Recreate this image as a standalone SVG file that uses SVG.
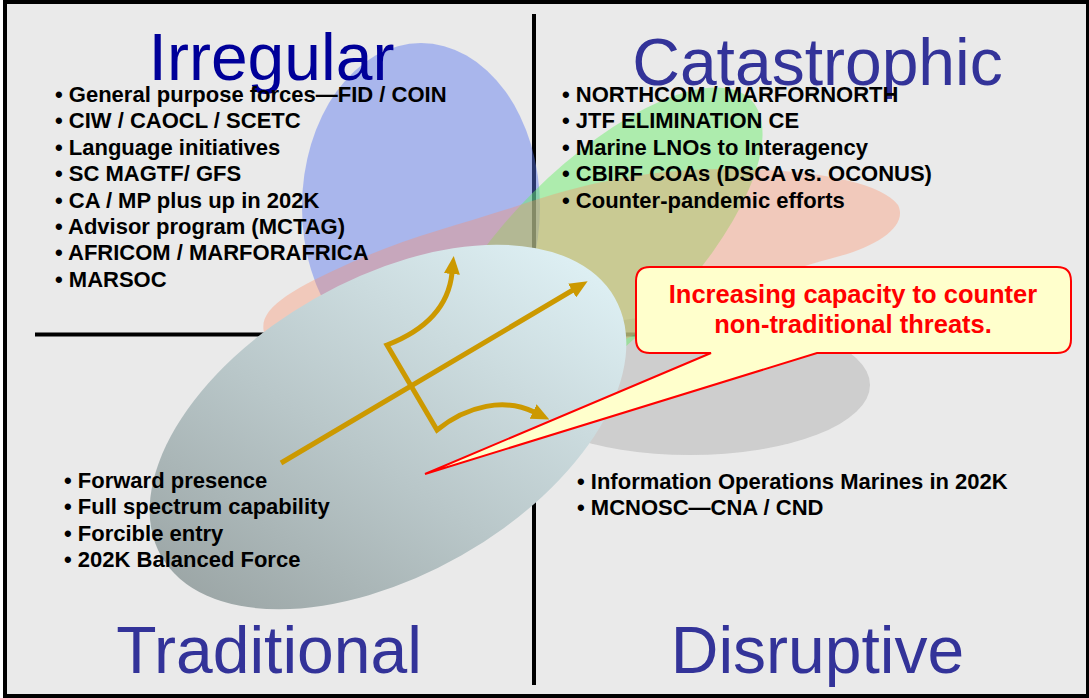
<svg xmlns="http://www.w3.org/2000/svg" width="1089" height="698" viewBox="0 0 1089 698">
<style>
.title{font-family:"Liberation Sans",Arial,sans-serif;font-size:66px;text-anchor:middle}
.b{font-family:"Liberation Sans",Arial,sans-serif;font-size:22px;font-weight:bold;fill:#000}
.call{font-family:"Liberation Sans",Arial,sans-serif;font-size:25.5px;font-weight:bold;fill:#FF0000;text-anchor:middle}
.div{stroke:#000;stroke-width:4;fill:none}
.arr{stroke:#CC9900;stroke-width:5;fill:none;stroke-linejoin:miter}
</style>
<defs>
<linearGradient id="tradGrad" gradientUnits="userSpaceOnUse" x1="150" y1="540" x2="600" y2="310">
<stop offset="0" stop-color="#9AA4A4"/>
<stop offset="0.45" stop-color="#B9C7C9"/>
<stop offset="1" stop-color="#DDEFF3"/>
</linearGradient>
<marker id="head" viewBox="0 0 18 16" refX="1" refY="8" markerWidth="18" markerHeight="16" markerUnits="userSpaceOnUse" orient="auto-start-reverse">
<path d="M0,0 L18,8 L0,16 Z" fill="#CC9900"/>
</marker>
</defs>
<rect x="5" y="2" width="1083" height="694" fill="#EAEAEA" stroke="#000" stroke-width="4"/>
<g id="dividers">
<line class="div" x1="534" y1="14" x2="534" y2="685"/>
<line class="div" x1="35" y1="334.5" x2="1050" y2="334.5"/>
</g>
<g id="irregular-shape"><ellipse cx="421" cy="207" rx="119" ry="164" fill="#5A78F0" fill-opacity="0.45"/></g>
<g id="disruptive-shape"><ellipse cx="690" cy="385" rx="180" ry="70" fill="#BBBBBB" fill-opacity="0.6"/></g>
<g id="catastrophic-shape"><ellipse cx="595" cy="255" rx="220" ry="88" transform="rotate(-45 595 255)" fill="#64F064" fill-opacity="0.45"/></g>
<g id="orange-shape"><path d="M265,335 C255,310 290,290 350,263 S460,225 520,205 S640,170 720,169 S880,180 898,205 C908,225 880,245 840,256 C780,272 700,300 630,337 C540,380 290,390 265,335 Z" fill="#FF8C64" fill-opacity="0.35"/></g>
<g id="traditional-shape"><ellipse cx="388" cy="427" rx="261" ry="148" transform="rotate(-29.65 388 427)" fill="url(#tradGrad)"/></g>
<g id="connectors">
<path class="arr" d="M281,463 L573,290" marker-end="url(#head)"/>
<path class="arr" d="M452,273 C448,312 418,333 387,345 L437,430 C468,405 505,398 534,412" marker-start="url(#head)" marker-end="url(#head)"/>
</g>
<g id="callout">
<path d="M650,267 H1057 Q1071,267 1071,281 V339 Q1071,353 1057,353 H817 L425,474 L711,353 H650 Q636,353 636,339 V281 Q636,267 650,267 Z" fill="#FFFFCC" stroke="#FF0000" stroke-width="2"/>
<text class="call" x="853" y="303">Increasing capacity to counter</text>
<text class="call" x="853" y="333">non-traditional threats.</text>
</g>
<g id="irregular">
<text class="title" x="271.5" y="80" fill="#000099">Irregular</text>
<text class="b" x="55" y="102">• General purpose forces—FID / COIN</text>
<text class="b" x="55" y="128.4">• CIW / CAOCL / SCETC</text>
<text class="b" x="55" y="154.8">• Language initiatives</text>
<text class="b" x="55" y="181.2">• SC MAGTF/ GFS</text>
<text class="b" x="55" y="207.6">• CA / MP plus up in 202K</text>
<text class="b" x="55" y="234">• Advisor program (MCTAG)</text>
<text class="b" x="55" y="260.4">• AFRICOM / MARFORAFRICA</text>
<text class="b" x="55" y="286.8">• MARSOC</text>
</g>
<g id="catastrophic">
<text class="title" x="817.5" y="85" fill="#333399">Catastrophic</text>
<text class="b" x="562" y="102">• NORTHCOM / MARFORNORTH</text>
<text class="b" x="562" y="128.4">• JTF ELIMINATION CE</text>
<text class="b" x="562" y="154.8">• Marine LNOs to Interagency</text>
<text class="b" x="562" y="181.2">• CBIRF COAs (DSCA vs. OCONUS)</text>
<text class="b" x="562" y="207.6">• Counter-pandemic efforts</text>
</g>
<g id="traditional">
<text class="title" x="269" y="673" fill="#333399">Traditional</text>
<text class="b" x="64" y="487.5">• Forward presence</text>
<text class="b" x="64" y="514">• Full spectrum capability</text>
<text class="b" x="64" y="540.5">• Forcible entry</text>
<text class="b" x="64" y="567">• 202K Balanced Force</text>
</g>
<g id="disruptive">
<text class="title" x="817.5" y="673" fill="#333399">Disruptive</text>
<text class="b" x="577" y="488.5">• Information Operations Marines in 202K</text>
<text class="b" x="577" y="515">• MCNOSC—CNA / CND</text>
</g>
</svg>
